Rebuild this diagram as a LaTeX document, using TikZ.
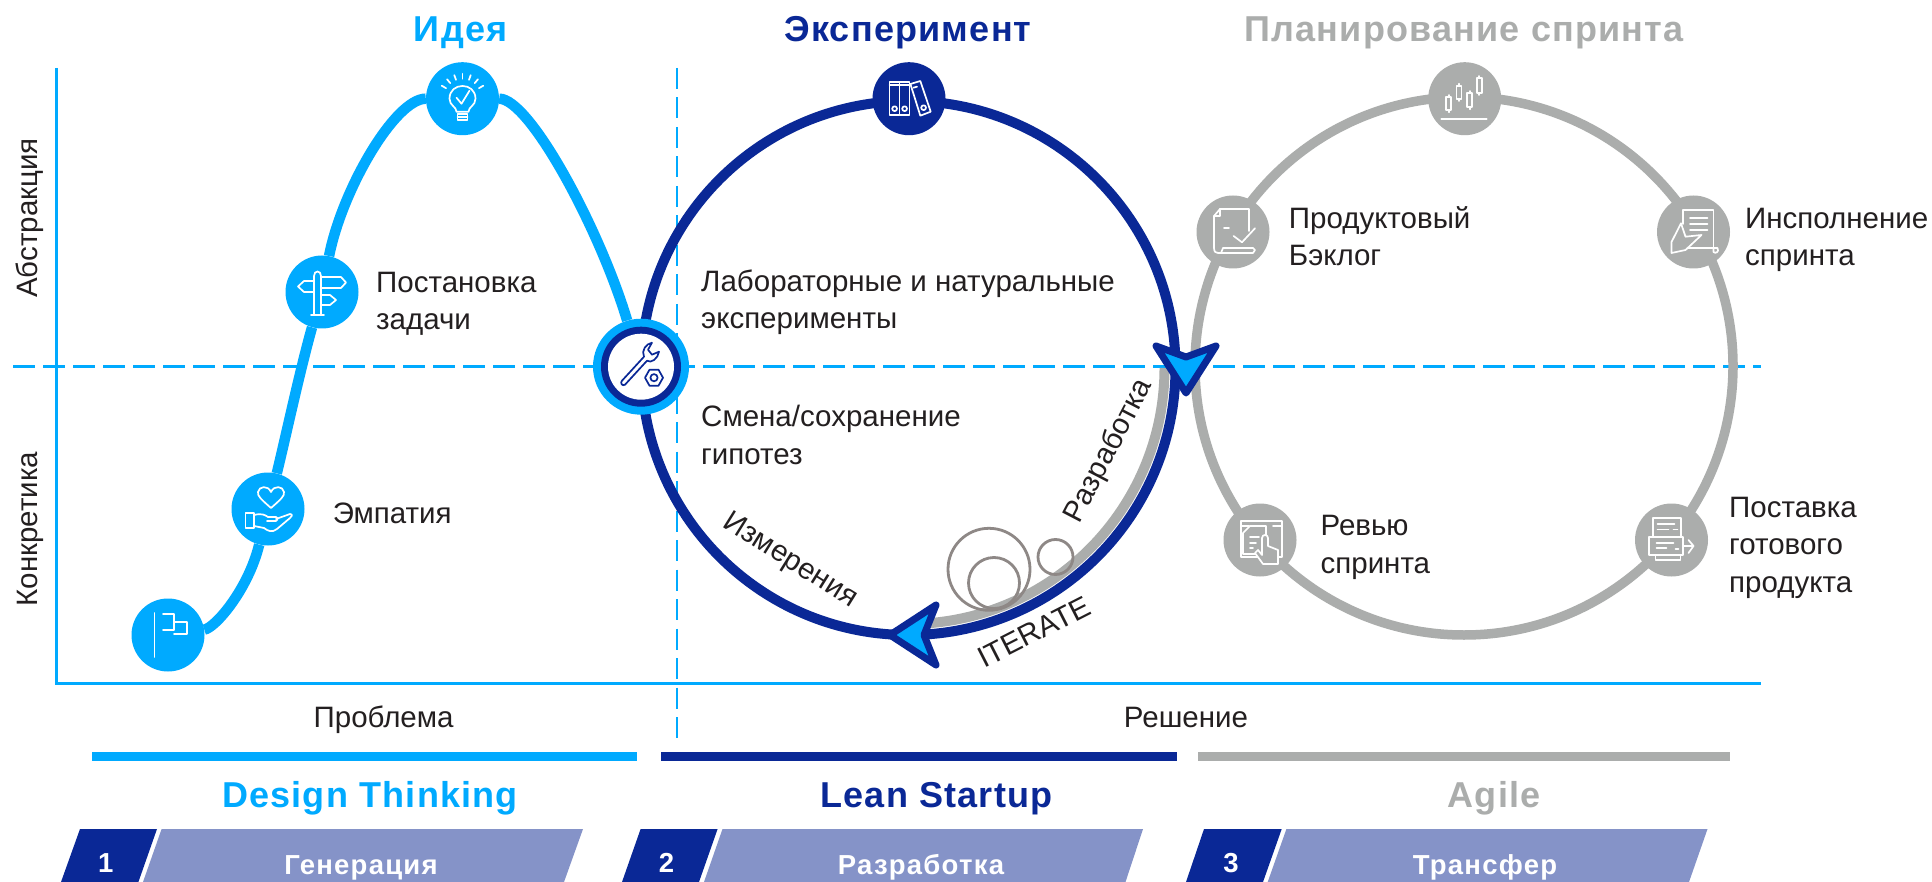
\documentclass[tikz,border=0pt]{standalone}
\usepackage{fontspec}
\usetikzlibrary{calc}
\setmainfont{Liberation Sans}
\definecolor{cblue}{HTML}{00AAFF}
\definecolor{cnavy}{HTML}{0A2896}
\definecolor{cgrey}{HTML}{ABADAC}
\definecolor{clav}{HTML}{8593C8}
\definecolor{ctext}{HTML}{231F20}
\definecolor{cbub}{HTML}{8E8886}
\tikzset{
  lab/.style={text=ctext,font=\fontsize{29.5}{37.5}\selectfont,inner sep=0pt,align=left,anchor=base west},
  axlab/.style={text=ctext,font=\fontsize{29.5}{37.5}\selectfont,inner sep=0pt,anchor=base},
  rotlab/.style={text=ctext,font=\fontsize{29.5}{35}\selectfont,inner sep=0pt,anchor=center},
  ttl/.style={font=\fontsize{36}{40}\bfseries\selectfont\addfontfeature{LetterSpace=3.4},inner sep=0pt,anchor=base},
  tabt/.style={text=white,font=\fontsize{27.5}{30}\bfseries\selectfont\addfontfeature{LetterSpace=4.5},inner sep=0pt,anchor=base},
  ic/.style={circle,minimum size=73pt,inner sep=0pt,fill=#1},
  wl/.style={draw=white,line width=1.7pt,line join=round,line cap=round},
  nl/.style={draw=cnavy,line width=1.7pt,line join=round,line cap=round},
  dsh/.style={draw=cblue,line width=2.6pt},
  tip/.style={draw=cnavy,fill=cblue,line width=7pt,line join=round},
  dtl/.style={draw=cblue,line width=10.5pt},
}
\begin{document}
\begin{tikzpicture}[x=1pt,y=-1pt]
\useasboundingbox (0,0) rectangle (1932,882);
\fill[white] (0,0) rectangle (1932,882);
% coordinates
\coordinate (hl) at (13,366.7);
\coordinate (hr) at (1761,366.7);
\coordinate (vt) at (676.8,68);
\coordinate (vb) at (676.8,739);
\coordinate (at) at (56.5,68);
\coordinate (ao) at (56.5,683.7);
\coordinate (ar) at (1761,683.7);
\coordinate (cN) at (908.5,368);
\coordinate (cG) at (1464,366);
% dashed guides
\draw[dsh,dash pattern=on 22pt off 8pt] (hl) -- (hr);
\draw[dsh,dash pattern=on 21pt off 8.5pt] (vt) -- (vb);
% axes
\draw[draw=cblue,line width=2.6pt,line join=miter] (at) -- (ao) -- (ar);
% circles
\draw[cgrey,line width=9.5pt] (cG) circle[radius=269pt];
\draw[cgrey,line width=10pt] ($(cN)+(256pt,0)$) arc[start angle=0,end angle=-86,radius=256pt];
\draw[cnavy,line width=10pt] (cN) circle[radius=267pt];
% nodes
\node[ic=cblue] (nstart) at (168,635) {};
\node[ic=cblue] (nemp) at (268,509) {};
\node[ic=cblue] (npost) at (322,292) {};
\node[ic=cblue] (nidea) at (462.5,98.7) {};
\node[circle,minimum size=96pt,inner sep=0pt,fill=cblue] (ntool) at (641,366.7) {};
\node[ic=cnavy] (nfold) at (909,98.7) {};
\node[ic=cgrey] (ncand) at (1464.7,98.7) {};
\node[ic=cgrey] (nback) at (1233,232) {};
\node[ic=cgrey] (nexec) at (1693.5,232) {};
\node[ic=cgrey] (nrev) at (1260,540) {};
\node[ic=cgrey] (ndel) at (1671.5,540) {};
% design thinking curve
\draw[dtl] (nstart) .. controls (215,628) and (248,590) .. (nemp);
\draw[dtl] (nemp) .. controls (285,440) and (300,370) .. (npost);
\draw[dtl] (npost) .. controls (342,190) and (395,98.7) .. (nidea);
\draw[dtl] (nidea) .. controls (530,98.7) and (600,230) .. (ntool);
% tool node rings
\fill[cnavy] (ntool.center) circle[radius=40pt];
\fill[white] (ntool.center) circle[radius=33pt];
% bubbles
\draw[cbub,line width=2.8pt] (989,569.3) circle[radius=41pt];
\draw[cbub,line width=2.8pt] (994,583) circle[radius=25.5pt];
\draw[cbub,line width=2.8pt] (1055.5,557) circle[radius=17.5pt];
% arrow heads
\draw[tip] (1186,393) -- (1156,346) -- (1186,357) -- (1216,346) -- cycle;
\draw[tip] (890,635) -- (936,605) -- (924,635) -- (936,665) -- cycle;
% ICONS
% flag
\begin{scope}[shift={(nstart.center)}]
\draw[wl] (-13.5,-22) -- (-13.5,22);
\draw[wl] (-5,-21) -- (6,-21) -- (6,-5) -- (-5,-5);
\draw[wl] (6,-13) -- (19,-13) -- (19,-1) -- (6,-1);
\end{scope}
% heart and hand
\begin{scope}[shift={(nemp.center)}]
\draw[wl] (3,-1) .. controls (-6,-9) and (-11,-13) .. (-10,-17) .. controls (-9,-23) and (0,-24) .. (3,-17) .. controls (6,-24) and (15,-23) .. (16,-17) .. controls (17,-13) and (12,-9) .. (3,-1) -- cycle;
\draw[wl] (-22.5,4) rectangle (-14,19);
\draw[wl] (-14,6) .. controls (-6,4) and (-3,6) .. (0,8) -- (8,8) .. controls (11,9) and (9,13) .. (6,12) -- (-1,12);
\draw[wl] (8,10) -- (22,5) .. controls (25,5) and (24,8) .. (22,9) -- (9,20) .. controls (4,24) and (0,22) .. (-4,19) -- (-14,17);
\end{scope}
% signpost
\begin{scope}[shift={(npost.center)}]
\draw[wl] (-8,23) -- (-8,-16) .. controls (-8,-22) and (-1,-22) .. (-1,-16) -- (-1,23);
\draw[wl] (-11,23) -- (2,23);
\draw[wl] (-1,-15) -- (19,-15) -- (24,-9.5) -- (19,-4) -- (-1,-4);
\draw[wl] (-8,-11) -- (-18,-11) -- (-24,-5.5) -- (-18,0) -- (-8,0);
\draw[wl] (-1,3) -- (8,3) -- (14,8) -- (8,13) -- (-1,13);
\end{scope}
% bulb
\begin{scope}[shift={(nidea.center)}]
\draw[wl] (-6,13) .. controls (-6,8) and (-13,7) .. (-13,0) .. controls (-13,-17) and (13,-17) .. (13,0) .. controls (13,7) and (6,8) .. (6,13) -- cycle;
\draw[wl] (-5,15) rectangle (5,21);
\draw[wl] (-5,18) -- (5,18);
\draw[wl] (-6,-1) -- (-1,5) -- (7,-8);
\foreach \a in {30,50,70,90,110,130,150}
  \draw[wl] ({19*cos(\a)},{-1-19*sin(\a)}) -- ({24*cos(\a)},{-1-24*sin(\a)});
\end{scope}
% wrench and nut
\begin{scope}[shift={(ntool.center)}]
\draw[nl] (-19,14) -- (3,-10) .. controls (0,-16) and (5,-23) .. (11,-24) -- (7,-17) -- (11,-12) -- (18,-15) .. controls (17,-8) and (10,-3) .. (6,-6) -- (-16,18) .. controls (-19,20) and (-21,16) .. (-19,14) -- cycle;
\draw[nl] (4,11) -- (8.5,3) -- (17.5,3) -- (22,11) -- (17.5,19) -- (8.5,19) -- cycle;
\draw[nl] (13,11) circle[radius=3.6pt];
\end{scope}
% binders
\begin{scope}[shift={(nfold.center)}]
\draw[wl] (-19.4,-17) rectangle (-9.4,16);
\draw[wl] (-9.4,-17) rectangle (0.6,16);
\draw[wl] (-19.4,-13.5) -- (0.6,-13.5);
\draw[wl] (-14.4,10) circle[radius=2.4pt];
\draw[wl] (-4.4,10) circle[radius=2.4pt];
\draw[wl] (1.4,-14.7) -- (11.3,-17.7) -- (21.7,13) -- (11.3,17) -- cycle;
\draw[wl] (14.6,9) circle[radius=2.4pt];
\draw[wl] (4.5,-11) -- (8,-12);
\end{scope}
% candles
\begin{scope}[shift={(ncand.center)}]
\draw[wl] (-23.4,20.3) -- (22,20.3);
\foreach \cx/\ct/\cb in {-16/-1.7/11.6,-5.7/-13/0.3,5/-5.7/8.6,14.5/-20.7/-5.7}{
  \draw[wl] (\cx-2.5,\ct) rectangle (\cx+2.5,\cb);
  \draw[wl] (\cx,\ct) -- (\cx,\ct-2);
  \draw[wl] (\cx,\cb) -- (\cx,\cb+2);
}
\end{scope}
% document check
\begin{scope}[shift={(nback.center)}]
\draw[wl] (-13,-23) -- (16,-23) -- (16,-1);
\draw[wl] (-13,-23) -- (-19,-16) -- (-19,16) .. controls (-19,20) and (-17,21) .. (-15,21) -- (20,21) -- (22,18) -- (20,16) -- (-10,16) -- (-12,21);
\draw[wl] (-13,-23) -- (-13,-16) -- (-19,-16);
\draw[wl] (-9,-3.7) -- (-4,-3.7);
\draw[wl] (0.6,4) -- (9,10.3) -- (22,-3.7);
\end{scope}
% doc in hand
\begin{scope}[shift={(nexec.center)}]
\draw[wl] (-10.5,-8) -- (-10.5,-22) -- (20,-22) -- (20,16);
\draw[wl] (-3.5,-14) -- (14,-14);
\draw[wl] (-3.5,-8) -- (14,-8);
\draw[wl] (-3.5,-2) -- (14,-2);
\draw[wl] (-6,16) -- (24,16) .. controls (26,20) and (22,22) .. (20,20) -- (20,16);
\draw[wl] (-22,21) -- (-22,10) -- (-12.5,-8.7) -- (-8,4.7) -- (8,3) -- (-8,18) -- cycle;
\end{scope}
% review
\begin{scope}[shift={(nrev.center)}]
\draw[wl] (-19,-19) rectangle (21.7,16.7);
\draw[wl] (-19,-14) -- (-11,-14);
\draw[wl] (13,-14) -- (21.7,-14);
\draw[wl] (-10,-14) -- (6,-14) -- (6,-2);
\draw[wl] (-10,-14) -- (-17,-7) -- (-17,14) -- (-5,14);
\draw[wl] (-10,-3) -- (-1,-3);
\draw[wl] (-10,3) -- (-4,3);
\draw[wl] (-10,8) -- (-7,8);
\filldraw[wl,fill=cgrey] (-5,13) -- (-2,10) -- (2,15) -- (2,-2) .. controls (2,-6) and (8,-6) .. (8,-2) -- (8,6) -- (18,10) -- (18,24) -- (3,24) -- cycle;
\end{scope}
% delivery
\begin{scope}[shift={(ndel.center)}]
\draw[wl] (-18.6,-3) -- (-18.6,-22) -- (9.5,-22) -- (9.5,-3);
\draw[wl] (-14,-16) -- (3,-16);
\draw[wl] (-14,-10.5) -- (-3,-10.5);
\draw[wl] (2,-10.5) -- (6,-10.5);
\draw[wl] (-22.5,-3) rectangle (11.5,15);
\draw[wl] (-15,3) -- (2,3);
\draw[wl] (-15,8) -- (-5,8);
\draw[wl] (4,9) -- (7,9);
\draw[wl] (-16,15) -- (-16,20) -- (9,20) -- (9,15);
\draw[wl] (11.5,6) -- (22,6);
\draw[wl] (17,0) -- (22,6) -- (17,13);
\end{scope}
% TEXT
\node[ttl,text=cblue] (t1) at (460.7,41.7) {Идея};
\node[ttl,text=cnavy] (t2) at (908,41.7) {Эксперимент};
\node[ttl,text=cgrey] (t3) at (1464,41.7) {Планирование спринта};
\node[lab] (l1) at (376,330) {Постановка\\задачи};
\node[lab] (l2) at (332.6,523) {Эмпатия};
\node[lab] (l3) at (701,329) {Лабораторные и натуральные\\эксперименты};
\node[lab] (l4) at (701,464) {Смена/сохранение\\гипотез};
\node[lab] (l5) at (1288.7,265.7) {Продуктовый\\Бэклог};
\node[lab] (l6) at (1745,265.7) {Инсполнение\\спринта};
\node[lab] (l7) at (1320.4,573) {Ревью\\спринта};
\node[lab] (l8) at (1729,592) {Поставка\\готового\\продукта};
\node[axlab,rotate=90] (a1) at (37,218) {Абстракция};
\node[axlab,rotate=90] (a2) at (37,529) {Конкретика};
\node[axlab] (a3) at (383.6,727) {Проблема};
\node[axlab] (a4) at (1186,727) {Решение};
\node[rotlab,rotate=-32] (r1) at (790,561) {Измерения};
\node[rotlab,rotate=62.5] (r2) at (1109,451) {Разработка};
\node[rotlab,rotate=27] (r3) at (1034,632) {ITERATE};
% bars
\fill[cblue] (91.5,752.3) rectangle (636.6,760.7);
\fill[cnavy] (661,752.3) rectangle (1177,760.7);
\fill[cgrey] (1198,752.3) rectangle (1730,760.7);
\node[ttl,text=cblue] (m1) at (370,807.7) {Design Thinking};
\node[ttl,text=cnavy] (m2) at (936.5,807.7) {Lean Startup};
\node[ttl,text=cgrey] (m3) at (1494,807.7) {Agile};
% tabs
\fill[cnavy] (80,829) -- (157,829) -- (138.4,882) -- (61,882) -- cycle;
\fill[clav] (161.6,829) -- (583,829) -- (564,882) -- (143,882) -- cycle;
\fill[cnavy] (640.6,829) -- (717.6,829) -- (699,882) -- (622,882) -- cycle;
\fill[clav] (722.5,829) -- (1143,829) -- (1125.5,882) -- (704,882) -- cycle;
\fill[cnavy] (1204,829) -- (1281.7,829) -- (1263,882) -- (1186,882) -- cycle;
\fill[clav] (1286.4,829) -- (1707.5,829) -- (1689,882) -- (1267.7,882) -- cycle;
\node[tabt] (b1) at (105.8,872) {1};
\node[tabt] (b2) at (666.6,872) {2};
\node[tabt] (b3) at (1231,872) {3};
\node[tabt] (c1) at (361,874) {Генерация};
\node[tabt] (c2) at (921,874) {Разработка};
\node[tabt] (c3) at (1485,874) {Трансфер};
\end{tikzpicture}
\end{document}
